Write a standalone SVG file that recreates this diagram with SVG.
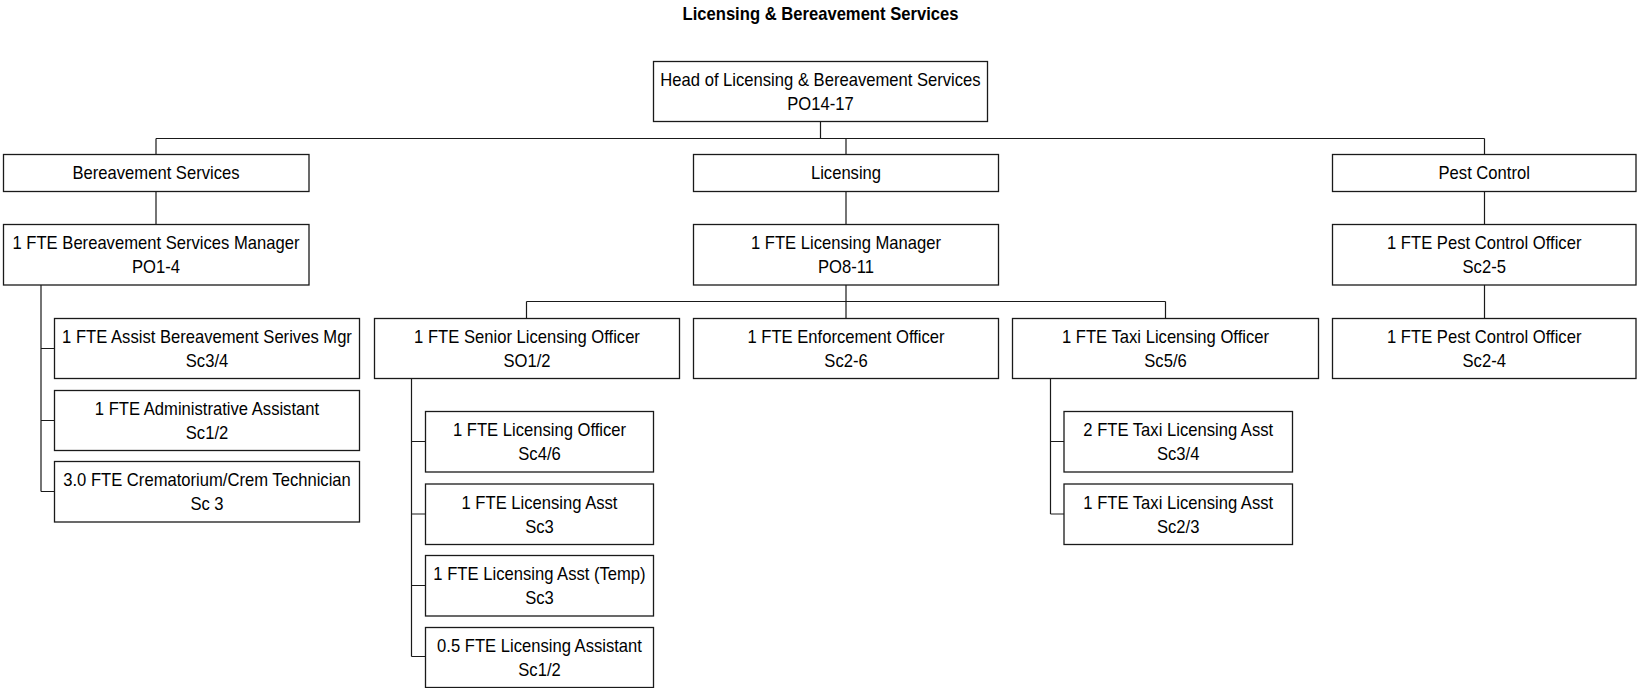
<svg xmlns="http://www.w3.org/2000/svg" width="1637" height="688" viewBox="0 0 1637 688">
<style>
.b{fill:#fff;stroke:#1a1a1a;stroke-width:1.3}
.c{fill:none;stroke:#1a1a1a;stroke-width:1.2}
.t{font-family:"Liberation Sans",Arial,sans-serif;font-size:18px;fill:#000;text-anchor:middle}
.h{font-weight:bold}
</style>
<rect width="1637" height="688" fill="#fff"/>
<text class="t h" transform="translate(820.5 0) scale(0.923 1)"><tspan x="0" y="20.5">Licensing &amp; Bereavement Services</tspan></text>
<g id="connectors">
<path class="c" d="M820.5 121.5V138.5M156 138.5H1484.5M156 138.5V154.5M846 138.5V154.5M1484.5 138.5V154.5M156 191.5V224.5M846 191.5V224.5M1484.5 191.5V224.5"/>
<path class="c" d="M41 285V491.5M41 348.5H54.5M41 420.5H54.5M41 491.5H54.5"/>
<path class="c" d="M846 285V318.5M526.5 301.5H1165.5M526.5 301.5V318.5M1165.5 301.5V318.5M1484.5 285V318.5"/>
<path class="c" d="M411.5 378.5V656.5M411.5 441.5H425.5M411.5 514H425.5M411.5 585.5H425.5M411.5 656.5H425.5"/>
<path class="c" d="M1050.5 378.5V514M1050.5 441.5H1064M1050.5 514H1064"/>
</g>
<g id="head"><rect class="b" x="653.5" y="61.5" width="334" height="60"/><text class="t" transform="translate(820.5 0) scale(0.923 1)"><tspan x="0" y="86">Head of Licensing &amp; Bereavement Services</tspan><tspan x="0" y="110">PO14-17</tspan></text></g>
<g id="bereavement"><rect class="b" x="3.5" y="154.5" width="305.5" height="37"/><text class="t" transform="translate(156 0) scale(0.923 1)"><tspan x="0" y="179.3">Bereavement Services</tspan></text></g>
<g id="licensing"><rect class="b" x="693.5" y="154.5" width="305" height="37"/><text class="t" transform="translate(846 0) scale(0.923 1)"><tspan x="0" y="179.3">Licensing</tspan></text></g>
<g id="pest"><rect class="b" x="1332.5" y="154.5" width="303.5" height="37"/><text class="t" transform="translate(1484.2 0) scale(0.923 1)"><tspan x="0" y="179.3">Pest Control</tspan></text></g>
<g id="bere-mgr"><rect class="b" x="3.5" y="224.5" width="305.5" height="60.5"/><text class="t" transform="translate(156 0) scale(0.923 1)"><tspan x="0" y="249.2">1 FTE Bereavement Services Manager</tspan><tspan x="0" y="273.2">PO1-4</tspan></text></g>
<g id="lic-mgr"><rect class="b" x="693.5" y="224.5" width="305" height="60.5"/><text class="t" transform="translate(846 0) scale(0.923 1)"><tspan x="0" y="249.2">1 FTE Licensing Manager</tspan><tspan x="0" y="273.2">PO8-11</tspan></text></g>
<g id="pest-off1"><rect class="b" x="1332.5" y="224.5" width="303.5" height="60.5"/><text class="t" transform="translate(1484.2 0) scale(0.923 1)"><tspan x="0" y="249.2">1 FTE Pest Control Officer</tspan><tspan x="0" y="273.2">Sc2-5</tspan></text></g>
<g id="bc1"><rect class="b" x="54.5" y="318.5" width="305" height="60"/><text class="t" transform="translate(207 0) scale(0.923 1)"><tspan x="0" y="343.2">1 FTE Assist Bereavement Serives Mgr</tspan><tspan x="0" y="367.2">Sc3/4</tspan></text></g>
<g id="bc2"><rect class="b" x="54.5" y="390.5" width="305" height="60"/><text class="t" transform="translate(207 0) scale(0.923 1)"><tspan x="0" y="415.2">1 FTE Administrative Assistant</tspan><tspan x="0" y="439.2">Sc1/2</tspan></text></g>
<g id="bc3"><rect class="b" x="54.5" y="461.5" width="305" height="60.5"/><text class="t" transform="translate(207 0) scale(0.923 1)"><tspan x="0" y="486.2">3.0 FTE Crematorium/Crem Technician</tspan><tspan x="0" y="510.2">Sc 3</tspan></text></g>
<g id="senior"><rect class="b" x="374.5" y="318.5" width="305" height="60"/><text class="t" transform="translate(527 0) scale(0.923 1)"><tspan x="0" y="343.2">1 FTE Senior Licensing Officer</tspan><tspan x="0" y="367.2">SO1/2</tspan></text></g>
<g id="enforcement"><rect class="b" x="693.5" y="318.5" width="305" height="60"/><text class="t" transform="translate(846 0) scale(0.923 1)"><tspan x="0" y="343.2">1 FTE Enforcement Officer</tspan><tspan x="0" y="367.2">Sc2-6</tspan></text></g>
<g id="taxi"><rect class="b" x="1012.5" y="318.5" width="306" height="60"/><text class="t" transform="translate(1165.5 0) scale(0.923 1)"><tspan x="0" y="343.2">1 FTE Taxi Licensing Officer</tspan><tspan x="0" y="367.2">Sc5/6</tspan></text></g>
<g id="pest-off2"><rect class="b" x="1332.5" y="318.5" width="303.5" height="60"/><text class="t" transform="translate(1484.2 0) scale(0.923 1)"><tspan x="0" y="343.2">1 FTE Pest Control Officer</tspan><tspan x="0" y="367.2">Sc2-4</tspan></text></g>
<g id="sc1"><rect class="b" x="425.5" y="411.5" width="228" height="60.5"/><text class="t" transform="translate(539.5 0) scale(0.923 1)"><tspan x="0" y="436.2">1 FTE Licensing Officer</tspan><tspan x="0" y="460.2">Sc4/6</tspan></text></g>
<g id="sc2"><rect class="b" x="425.5" y="484" width="228" height="60.5"/><text class="t" transform="translate(539.5 0) scale(0.923 1)"><tspan x="0" y="508.7">1 FTE Licensing Asst</tspan><tspan x="0" y="532.7">Sc3</tspan></text></g>
<g id="sc3"><rect class="b" x="425.5" y="555.5" width="228" height="60.5"/><text class="t" transform="translate(539.5 0) scale(0.923 1)"><tspan x="0" y="580.2">1 FTE Licensing Asst (Temp)</tspan><tspan x="0" y="604.2">Sc3</tspan></text></g>
<g id="sc4"><rect class="b" x="425.5" y="627.5" width="228" height="60"/><text class="t" transform="translate(539.5 0) scale(0.923 1)"><tspan x="0" y="652.2">0.5 FTE Licensing Assistant</tspan><tspan x="0" y="676.2">Sc1/2</tspan></text></g>
<g id="tc1"><rect class="b" x="1064" y="411.5" width="228.5" height="60.5"/><text class="t" transform="translate(1178.2 0) scale(0.923 1)"><tspan x="0" y="436.2">2 FTE Taxi Licensing Asst</tspan><tspan x="0" y="460.2">Sc3/4</tspan></text></g>
<g id="tc2"><rect class="b" x="1064" y="484" width="228.5" height="60.5"/><text class="t" transform="translate(1178.2 0) scale(0.923 1)"><tspan x="0" y="508.7">1 FTE Taxi Licensing Asst</tspan><tspan x="0" y="532.7">Sc2/3</tspan></text></g>
</svg>
